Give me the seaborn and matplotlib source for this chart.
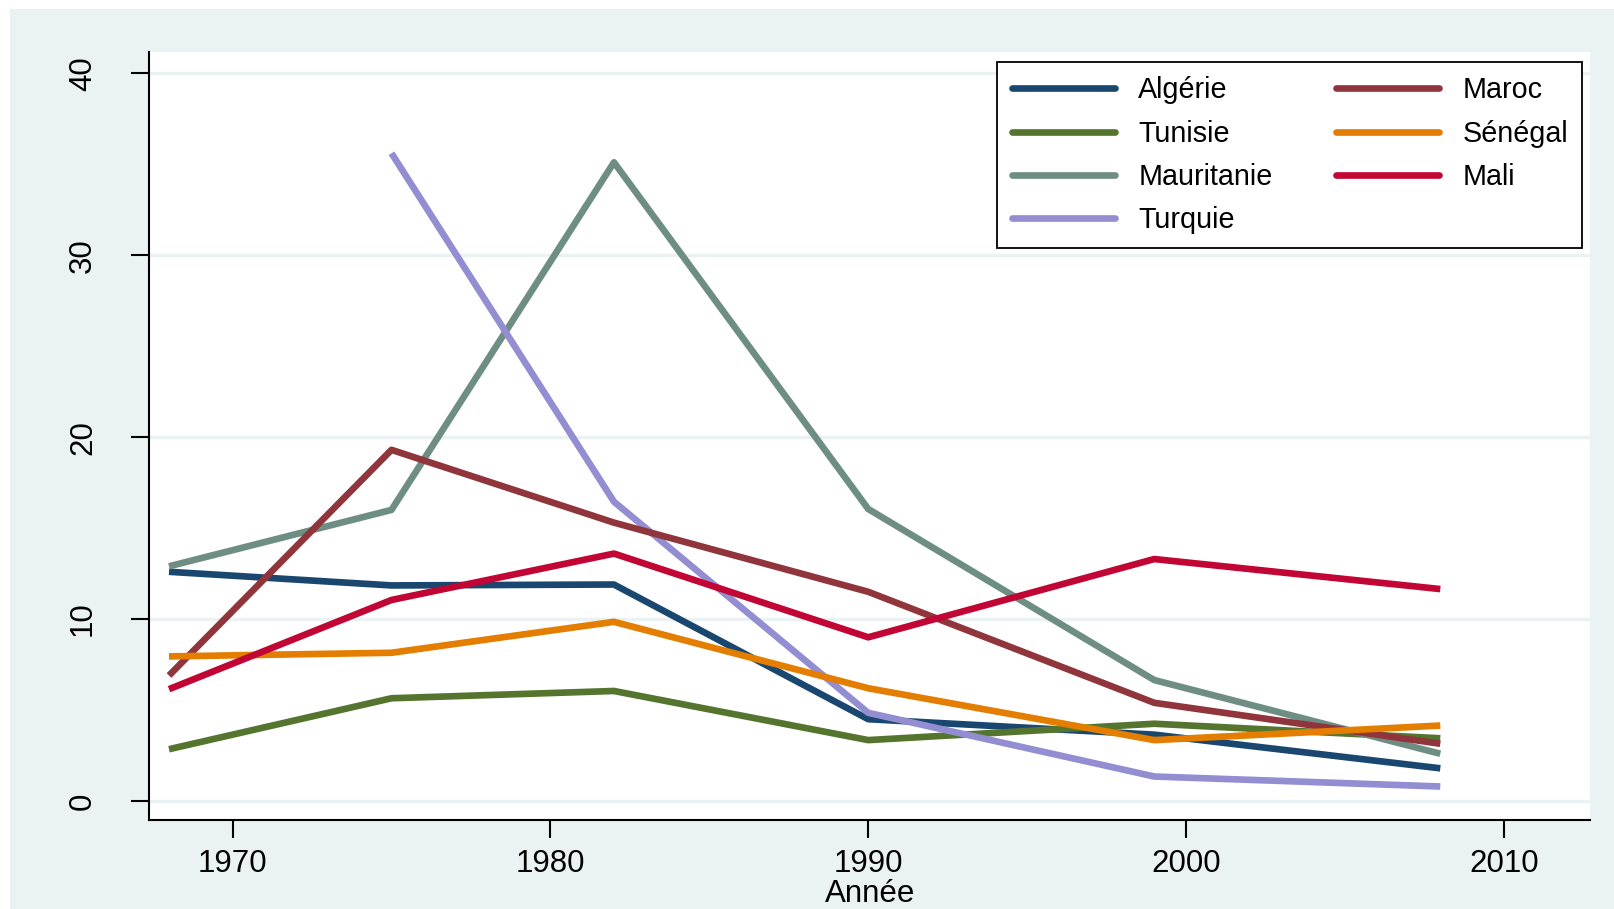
import numpy as np
import pandas as pd
import matplotlib
matplotlib.use("Agg")
import matplotlib.pyplot as plt
import seaborn as sns
from matplotlib.patches import Rectangle

years = [1968, 1975, 1982, 1990, 1999, 2008]
countries = ["Algérie", "Tunisie", "Mauritanie", "Turquie", "Maroc", "Sénégal", "Mali"]

algerie = [12.6, 11.85, 11.9, 4.5, 3.65, 1.8]
tunisie = [2.85, 5.65, 6.05, 3.35, 4.25, 3.45]
mauritanie = [12.9, 16.0, 35.1, 16.05, 6.65, 2.6]
turquie = [np.nan, 35.6, 16.45, 4.85, 1.35, 0.8]
maroc = [6.9, 19.3, 15.3, 11.5, 5.4, 3.15]
senegal = [7.95, 8.15, 9.85, 6.2, 3.35, 4.15]
mali = [6.15, 11.05, 13.6, 9.0, 13.3, 11.65]

colors = {
    "Algérie": "#1A476F",
    "Tunisie": "#55752F",
    "Mauritanie": "#6E8E84",
    "Turquie": "#938DD2",
    "Maroc": "#90353B",
    "Sénégal": "#E37E00",
    "Mali": "#C10534",
}

series = [algerie, tunisie, mauritanie, turquie, maroc, senegal, mali]
df = pd.DataFrame({
    "Année": np.tile(years, len(countries)),
    "pays": np.repeat(countries, len(years)),
    "valeur": np.concatenate(series),
}).dropna()

sns.set_style("white")
plt.rcParams["font.family"] = ["Liberation Sans", "DejaVu Sans"]
plt.rcParams["text.color"] = "black"
plt.rcParams["axes.labelcolor"] = "black"
plt.rcParams["xtick.color"] = "black"
plt.rcParams["ytick.color"] = "black"

bg = "#EAF2F3"
fig = plt.figure(figsize=(16.14, 9.09), dpi=100)
fig.patch.set_facecolor("white")
fig.add_artist(Rectangle((10 / 1614, 0), 1, 1 - 9 / 909, transform=fig.transFigure,
                         facecolor=bg, edgecolor="none", zorder=0))

ax = fig.add_axes([149.3 / 1614, 1 - 820 / 909, (1590.3 - 149.3) / 1614, (820 - 51.5) / 909])
ax.set_facecolor("white")

for y in [0, 10, 20, 30, 40]:
    ax.axhline(y, color=bg, lw=2.5, zorder=1)

sns.lineplot(data=df, x="Année", y="valeur", hue="pays", hue_order=countries,
             palette=colors, linewidth=4.8, ax=ax, legend=False, zorder=3,
             solid_capstyle="butt")

ax.set_xlim(1967.38, 2012.72)
ax.set_ylim(-1.04, 41.19)
ax.set_xticks([1970, 1980, 1990, 2000, 2010])
ax.set_yticks([0, 10, 20, 30, 40])
ax.set_ylabel("")
ax.set_xlabel("Année", fontsize=22.5, labelpad=0, color="black")

for s in ["top", "right"]:
    ax.spines[s].set_visible(False)
for s in ["left", "bottom"]:
    ax.spines[s].set_color("black")
    ax.spines[s].set_linewidth(1.5)

ax.tick_params(axis="both", which="major", length=13, width=1.5, color="black",
               labelsize=22.5, labelcolor="black", direction="out", left=True, bottom=True)
ax.tick_params(axis="x", pad=8)
ax.tick_params(axis="y", pad=24)
for lab in ax.get_yticklabels():
    lab.set_rotation(90)
    lab.set_va("center")

handles = [plt.Line2D([], [], color=colors[c], lw=4.8) for c in countries]
leg = ax.legend(handles, countries, ncol=2, loc="upper right",
                bbox_to_anchor=(0.9945, 0.9863), borderaxespad=0,
                fontsize=20.7, handlelength=3.6, handletextpad=0.8,
                columnspacing=2.2, labelspacing=0.53, borderpad=0.5,
                frameon=True, fancybox=False, framealpha=1)
leg.get_frame().set_edgecolor("black")
leg.get_frame().set_linewidth(1.3)
leg.set_zorder(5)
for t in leg.get_texts():
    t.set_color("black")

fig.savefig("out.png", dpi=100, facecolor=fig.get_facecolor())
